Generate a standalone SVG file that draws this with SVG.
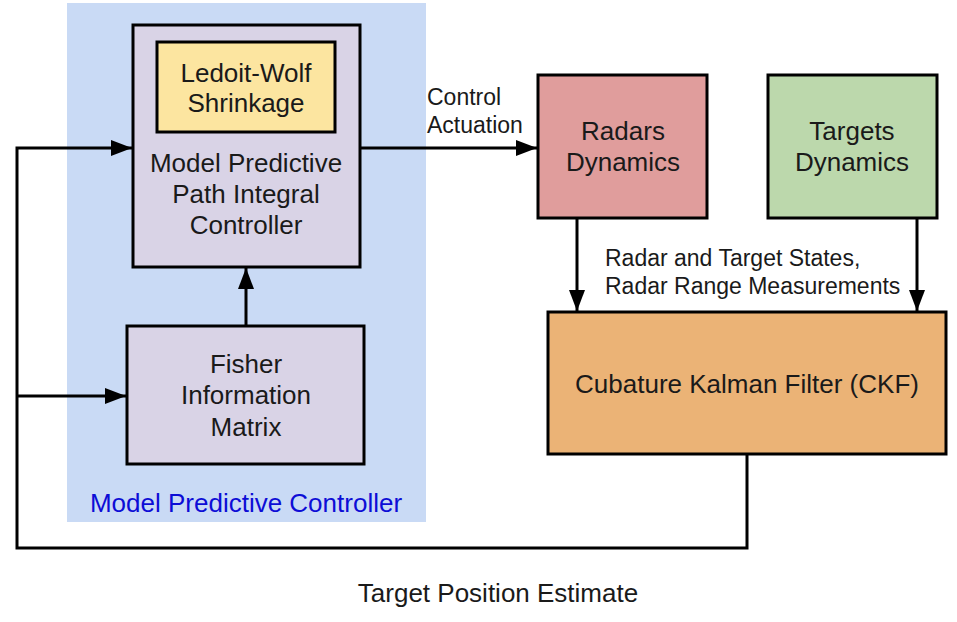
<svg xmlns="http://www.w3.org/2000/svg" width="957" height="622" viewBox="0 0 957 622">
<defs>
<marker id="ah" markerUnits="userSpaceOnUse" markerWidth="22" markerHeight="18" refX="21" refY="9" orient="auto">
<path d="M0,1 L21,9 L0,17 Z" fill="#000"/>
</marker>
</defs>
<style>
.box{stroke:#000;stroke-width:3}
.t{font-family:"Liberation Sans",Arial,sans-serif;font-size:26px;fill:#1a1a1a;text-anchor:middle}
.s{font-family:"Liberation Sans",Arial,sans-serif;font-size:23px;fill:#1a1a1a}
.c{fill:none;stroke:#000;stroke-width:3}
</style>
<rect width="957" height="622" fill="#fff"/>
<g id="mpc">
<rect x="67" y="3" width="359" height="519" fill="#c9daf5"/>
<text class="t" x="246" y="512" style="fill:#0d0dd6">Model Predictive Controller</text>
</g>
<g id="mppi">
<rect class="box" x="133" y="25" width="227" height="242" fill="#d9d3e6"/>
<text class="t" x="246" y="172">Model Predictive</text>
<text class="t" x="246" y="203">Path Integral</text>
<text class="t" x="246" y="234">Controller</text>
</g>
<g id="ledoit">
<rect class="box" x="157" y="42" width="178" height="90" fill="#fce5a0"/>
<text class="t" x="246" y="82">Ledoit-Wolf</text>
<text class="t" x="246" y="112">Shrinkage</text>
</g>
<g id="fisher">
<rect class="box" x="127" y="326" width="237" height="138" fill="#d9d3e6"/>
<text class="t" x="246" y="373">Fisher</text>
<text class="t" x="246" y="404">Information</text>
<text class="t" x="246" y="436">Matrix</text>
</g>
<g id="radars">
<rect class="box" x="538" y="75" width="169" height="143" fill="#e09d9c"/>
<text class="t" x="623" y="140">Radars</text>
<text class="t" x="623" y="171">Dynamics</text>
</g>
<g id="targets">
<rect class="box" x="768" y="75" width="169" height="143" fill="#bcd8ac"/>
<text class="t" x="852" y="140">Targets</text>
<text class="t" x="852" y="171">Dynamics</text>
</g>
<g id="ckf">
<rect class="box" x="548" y="312" width="398" height="142" fill="#ebb376"/>
<text class="t" x="747" y="393">Cubature Kalman Filter (CKF)</text>
</g>
<g id="connectors">
<line class="c" x1="246" y1="326" x2="246" y2="268" marker-end="url(#ah)"/>
<line class="c" x1="360" y1="148" x2="537" y2="148" marker-end="url(#ah)"/>
<line class="c" x1="577" y1="218" x2="577" y2="311" marker-end="url(#ah)"/>
<line class="c" x1="917" y1="218" x2="917" y2="311" marker-end="url(#ah)"/>
<polyline class="c" points="747,454 747,548 17,548 17,148 132,148" marker-end="url(#ah)"/>
<line class="c" x1="17" y1="396" x2="126" y2="396" marker-end="url(#ah)"/>
<text class="s" x="427" y="105">Control</text>
<text class="s" x="427" y="133">Actuation</text>
<text class="s" x="605" y="266">Radar and Target States,</text>
<text class="s" x="605" y="294">Radar Range Measurements</text>
<text class="t" x="498" y="602">Target Position Estimate</text>
</g>
</svg>
